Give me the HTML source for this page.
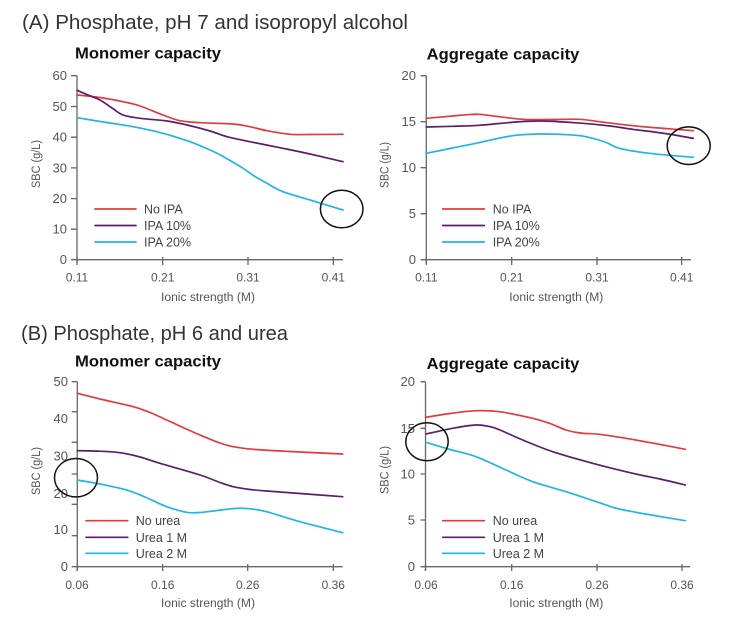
<!DOCTYPE html>
<html><head><meta charset="utf-8">
<style>
html,body{margin:0;padding:0;background:#fff;}
svg{display:block;}
text{font-family:"Liberation Sans",sans-serif;}
.ttl{font-size:20px;fill:#333;}
.sub{font-size:16px;font-weight:bold;fill:#111;}
.yt{font-size:13px;fill:#555;text-anchor:end;}
.xt{font-size:12px;fill:#555;text-anchor:middle;}
.lg{font-size:12.5px;fill:#444;}
.at{font-size:11.5px;fill:#555;text-anchor:middle;}
.ax{stroke:#666;stroke-width:1.3;fill:none;}
.r{stroke:#e23a3f;stroke-width:1.7;fill:none;stroke-linejoin:round;stroke-linecap:round;}
.p{stroke:#5b1f6a;stroke-width:1.7;fill:none;stroke-linejoin:round;stroke-linecap:round;}
.c{stroke:#23b4e5;stroke-width:1.7;fill:none;stroke-linejoin:round;stroke-linecap:round;}
.ci{stroke:#111;stroke-width:1.5;fill:none;}
</style></head>
<body>
<svg id="chart" width="736" height="622" viewBox="0 0 736 622" xmlns="http://www.w3.org/2000/svg">
<rect width="736" height="622" fill="#fff"/>

<!-- Titles -->
<text class="ttl" x="22" y="29" textLength="386" lengthAdjust="spacingAndGlyphs">(A) Phosphate, pH 7 and isopropyl alcohol</text>
<text class="ttl" x="21" y="340" textLength="267" lengthAdjust="spacingAndGlyphs">(B) Phosphate, pH 6 and urea</text>

<!-- ================= A-left ================= -->
<text class="sub" x="75" y="58.5" textLength="146" lengthAdjust="spacingAndGlyphs">Monomer capacity</text>
<path class="ax" d="M77,75.7 V263 M77,259.7 H343"/>
<path class="ax" d="M71,75.7H77 M71,106.5H77 M71,137.2H77 M71,167.9H77 M71,198.6H77 M71,229.2H77 M71,259.7H77"/>
<path class="ax" d="M77,257V265 M162.7,257V265 M248,257V265 M333.3,257V265"/>
<text class="yt" x="67" y="80.2">60</text>
<text class="yt" x="67" y="111">50</text>
<text class="yt" x="67" y="141.7">40</text>
<text class="yt" x="67" y="172.4">30</text>
<text class="yt" x="67" y="203.1">20</text>
<text class="yt" x="67" y="233.7">10</text>
<text class="yt" x="67" y="264.2">0</text>
<text class="xt" x="77" y="281.5">0.11</text>
<text class="xt" x="162.7" y="281.5">0.21</text>
<text class="xt" x="248" y="281.5">0.31</text>
<text class="xt" x="333.3" y="281.5">0.41</text>
<text class="at" x="208" y="301" textLength="94" lengthAdjust="spacingAndGlyphs">Ionic strength (M)</text>
<text class="at" transform="translate(40,164) rotate(-90)" textLength="48" lengthAdjust="spacingAndGlyphs">SBC (g/L)</text>
<polyline class="r" points="77,95 100,97.5 123,101.7 140,106 163,115 180,120.7 200,122.7 233,124 250,126.7 267,130.7 290,134.3 310,134.5 343,134.3"/>
<polyline class="p" points="77,90.3 88,95 100,100 112,108 123,115 140,118.3 167,121 187,125 210,131 227,136.7 250,141.7 283,148.3 310,154 343,161.7"/>
<polyline class="c" points="77,117.7 100,121.5 133,126.7 163,133.3 187,140.7 202,146.5 217,153.3 230,160.5 243,168.3 255,176.5 267,183.3 283,191.7 310,200 343,210"/>
<ellipse class="ci" cx="341.7" cy="209" rx="21.3" ry="18.8"/>
<line class="r" x1="95" y1="209" x2="136" y2="209"/>
<line class="p" x1="95" y1="225.5" x2="136" y2="225.5"/>
<line class="c" x1="95" y1="242" x2="136" y2="242"/>
<text class="lg" x="144" y="213.5">No IPA</text>
<text class="lg" x="144" y="230">IPA 10%</text>
<text class="lg" x="144" y="246.5">IPA 20%</text>

<!-- ================= A-right ================= -->
<text class="sub" x="426.7" y="59.5" textLength="152.6" lengthAdjust="spacingAndGlyphs">Aggregate capacity</text>
<path class="ax" d="M426.3,75.7 V263 M426.3,259.7 H691"/>
<path class="ax" d="M420.5,75.7H426.3 M420.5,121.7H426.3 M420.5,167.7H426.3 M420.5,213.7H426.3 M420.5,259.7H426.3"/>
<path class="ax" d="M426.3,257V265 M511.7,257V265 M597,257V265 M681.7,257V265"/>
<text class="yt" x="416" y="80.2">20</text>
<text class="yt" x="416" y="126.2">15</text>
<text class="yt" x="416" y="172.2">10</text>
<text class="yt" x="416" y="218.2">5</text>
<text class="yt" x="416" y="264.2">0</text>
<text class="xt" x="426.3" y="281.5">0.11</text>
<text class="xt" x="511.7" y="281.5">0.21</text>
<text class="xt" x="597" y="281.5">0.31</text>
<text class="xt" x="681.7" y="281.5">0.41</text>
<text class="at" x="556.3" y="301" textLength="94" lengthAdjust="spacingAndGlyphs">Ionic strength (M)</text>
<text class="at" transform="translate(388.5,165) rotate(-90)" textLength="46" lengthAdjust="spacingAndGlyphs">SBC (g/L)</text>
<polyline class="r" points="426.3,118.3 452.7,116 466,114.8 479.3,114.3 499.3,116.7 522.7,119.3 550,119.5 579.3,119.3 599.3,121.7 632.7,125.7 665,128.5 693.3,130.7"/>
<polyline class="p" points="426.3,127 452,126.3 479.3,125.3 516,122 542.7,121 582.7,123.3 610,126 632.7,129.3 665,133.5 693.3,138.3"/>
<polyline class="c" points="426.3,153.3 450,148.5 476,143.3 512.7,135.7 542.7,134 570,134.8 586,136.7 605,142 619.3,148.3 649.3,153.3 693.3,157.3"/>
<ellipse class="ci" cx="688.7" cy="145.7" rx="21.5" ry="18.8"/>
<line class="r" x1="442.7" y1="209" x2="484.3" y2="209"/>
<line class="p" x1="442.7" y1="225.5" x2="484.3" y2="225.5"/>
<line class="c" x1="442.7" y1="242" x2="484.3" y2="242"/>
<text class="lg" x="492.7" y="213.5">No IPA</text>
<text class="lg" x="492.7" y="230">IPA 10%</text>
<text class="lg" x="492.7" y="246.5">IPA 20%</text>

<!-- ================= B-left ================= -->
<text class="sub" x="75" y="366.7" textLength="146" lengthAdjust="spacingAndGlyphs">Monomer capacity</text>
<path class="ax" d="M77.3,381.7 V571 M77.3,566.7 H342.7"/>
<path class="ax" d="M71.7,381.7H77.3 M71.7,411.7H77.3 M71.7,442.3H77.3 M71.7,474H77.3 M71.7,504.3H77.3 M71.7,535.7H77.3 M71.7,566.7H77.3"/>
<path class="ax" d="M77.3,564V571 M162.7,564V571 M247.7,564V571 M333.3,564V571"/>
<text class="yt" x="68" y="386.2">50</text>
<text class="yt" x="68" y="422.8">40</text>
<text class="yt" x="68" y="460.5">30</text>
<text class="yt" x="68" y="497.8">20</text>
<text class="yt" x="68" y="533.8">10</text>
<text class="yt" x="68" y="571.2">0</text>
<text class="xt" x="77" y="589">0.06</text>
<text class="xt" x="162.7" y="589">0.16</text>
<text class="xt" x="247.7" y="589">0.26</text>
<text class="xt" x="333.3" y="589">0.36</text>
<text class="at" x="208" y="607" textLength="94" lengthAdjust="spacingAndGlyphs">Ionic strength (M)</text>
<text class="at" transform="translate(40,471) rotate(-90)" textLength="48" lengthAdjust="spacingAndGlyphs">SBC (g/L)</text>
<polyline class="r" points="77.3,393.3 100,399 133.3,406.7 150,412.5 166.7,420 183,427.5 200,435 220,443 233.3,446.7 253.3,449.3 290,451.5 342.7,454"/>
<polyline class="p" points="77.3,450.7 100,451.2 120,452.7 140,457 160,463.3 200,475 220,482.5 233.3,486.7 250,489.5 266.7,491 300,493.5 342.7,496.7"/>
<polyline class="c" points="77.3,480 100,484 126.7,490 145,497 166.7,506.7 186.7,512.3 200,512.5 213.3,511 236.7,508.3 252,509 266.7,511.7 300,521.7 342.7,532.7"/>
<ellipse class="ci" cx="76" cy="477.7" rx="21.5" ry="19.2"/>
<line class="r" x1="86" y1="520.7" x2="127.7" y2="520.7"/>
<line class="p" x1="86" y1="537.3" x2="127.7" y2="537.3"/>
<line class="c" x1="86" y1="553.3" x2="127.7" y2="553.3"/>
<text class="lg" x="135.7" y="525.2">No urea</text>
<text class="lg" x="135.7" y="541.8">Urea 1 M</text>
<text class="lg" x="135.7" y="557.8">Urea 2 M</text>

<!-- ================= B-right ================= -->
<text class="sub" x="426.7" y="369" textLength="152.6" lengthAdjust="spacingAndGlyphs">Aggregate capacity</text>
<path class="ax" d="M425.5,381.7 V571 M425.5,566.7 H690"/>
<path class="ax" d="M420.5,381.7H425.5 M420.5,428.3H425.5 M420.5,474H425.5 M420.5,520H425.5 M420.5,566.7H425.5"/>
<path class="ax" d="M425.5,564V571 M511.7,564V571 M597,564V571 M682,564V571"/>
<text class="yt" x="415" y="386.2">20</text>
<text class="yt" x="415" y="432.8">15</text>
<text class="yt" x="415" y="478.5">10</text>
<text class="yt" x="415" y="524.5">5</text>
<text class="yt" x="415" y="571.2">0</text>
<text class="xt" x="426" y="589">0.06</text>
<text class="xt" x="511.7" y="589">0.16</text>
<text class="xt" x="597" y="589">0.26</text>
<text class="xt" x="682" y="589">0.36</text>
<text class="at" x="556.3" y="607" textLength="94" lengthAdjust="spacingAndGlyphs">Ionic strength (M)</text>
<text class="at" transform="translate(388.5,470) rotate(-90)" textLength="48" lengthAdjust="spacingAndGlyphs">SBC (g/L)</text>
<polyline class="r" points="426,417.3 450,413.5 476,410.7 499.3,411.7 532.7,418.3 550,423.5 566,430 580,433 599.3,434.3 626,438.3 655,443.5 685.3,449.3"/>
<polyline class="p" points="426,434 452.7,428.3 476,425 492.7,427.3 508,433.5 522.7,440 552.7,451.7 592.7,463.3 632.7,473.3 660,479 685.3,485"/>
<polyline class="c" points="426,442.3 450,449.5 476,456.7 506,470 532.7,481.7 566,491.7 599.3,502.7 615,508 632.7,511.7 660,516.5 685.3,520.7"/>
<ellipse class="ci" cx="427" cy="441.7" rx="21.2" ry="19"/>
<line class="r" x1="442.7" y1="520.7" x2="484.3" y2="520.7"/>
<line class="p" x1="442.7" y1="537.3" x2="484.3" y2="537.3"/>
<line class="c" x1="442.7" y1="553.3" x2="484.3" y2="553.3"/>
<text class="lg" x="492.7" y="525.2">No urea</text>
<text class="lg" x="492.7" y="541.8">Urea 1 M</text>
<text class="lg" x="492.7" y="557.8">Urea 2 M</text>
</svg>
<script>
(function(){
  try{
    var NS="http://www.w3.org/2000/svg";
    var pls=document.querySelectorAll("#chart polyline");
    for(var k=0;k<pls.length;k++){
      var pl=pls[k];
      var raw=pl.getAttribute("points").trim().split(/\s+/);
      var P=raw.map(function(s){var a=s.split(",");return [parseFloat(a[0]),parseFloat(a[1])];});
      var n=P.length;
      var d="M"+P[0][0]+","+P[0][1];
      for(var i=0;i<n-1;i++){
        var p0=P[i>0?i-1:i],p1=P[i],p2=P[i+1],p3=P[i+2<n?i+2:i+1];
        var c1x=p1[0]+(p2[0]-p0[0])/6,c1y=p1[1]+(p2[1]-p0[1])/6;
        var c2x=p2[0]-(p3[0]-p1[0])/6,c2y=p2[1]-(p3[1]-p1[1])/6;
        d+=" C"+c1x.toFixed(2)+","+c1y.toFixed(2)+" "+c2x.toFixed(2)+","+c2y.toFixed(2)+" "+p2[0]+","+p2[1];
      }
      var path=document.createElementNS(NS,"path");
      path.setAttribute("class",pl.getAttribute("class"));
      path.setAttribute("d",d);
      pl.parentNode.replaceChild(path,pl);
    }
  }catch(e){}
})();
</script>
</body></html>
